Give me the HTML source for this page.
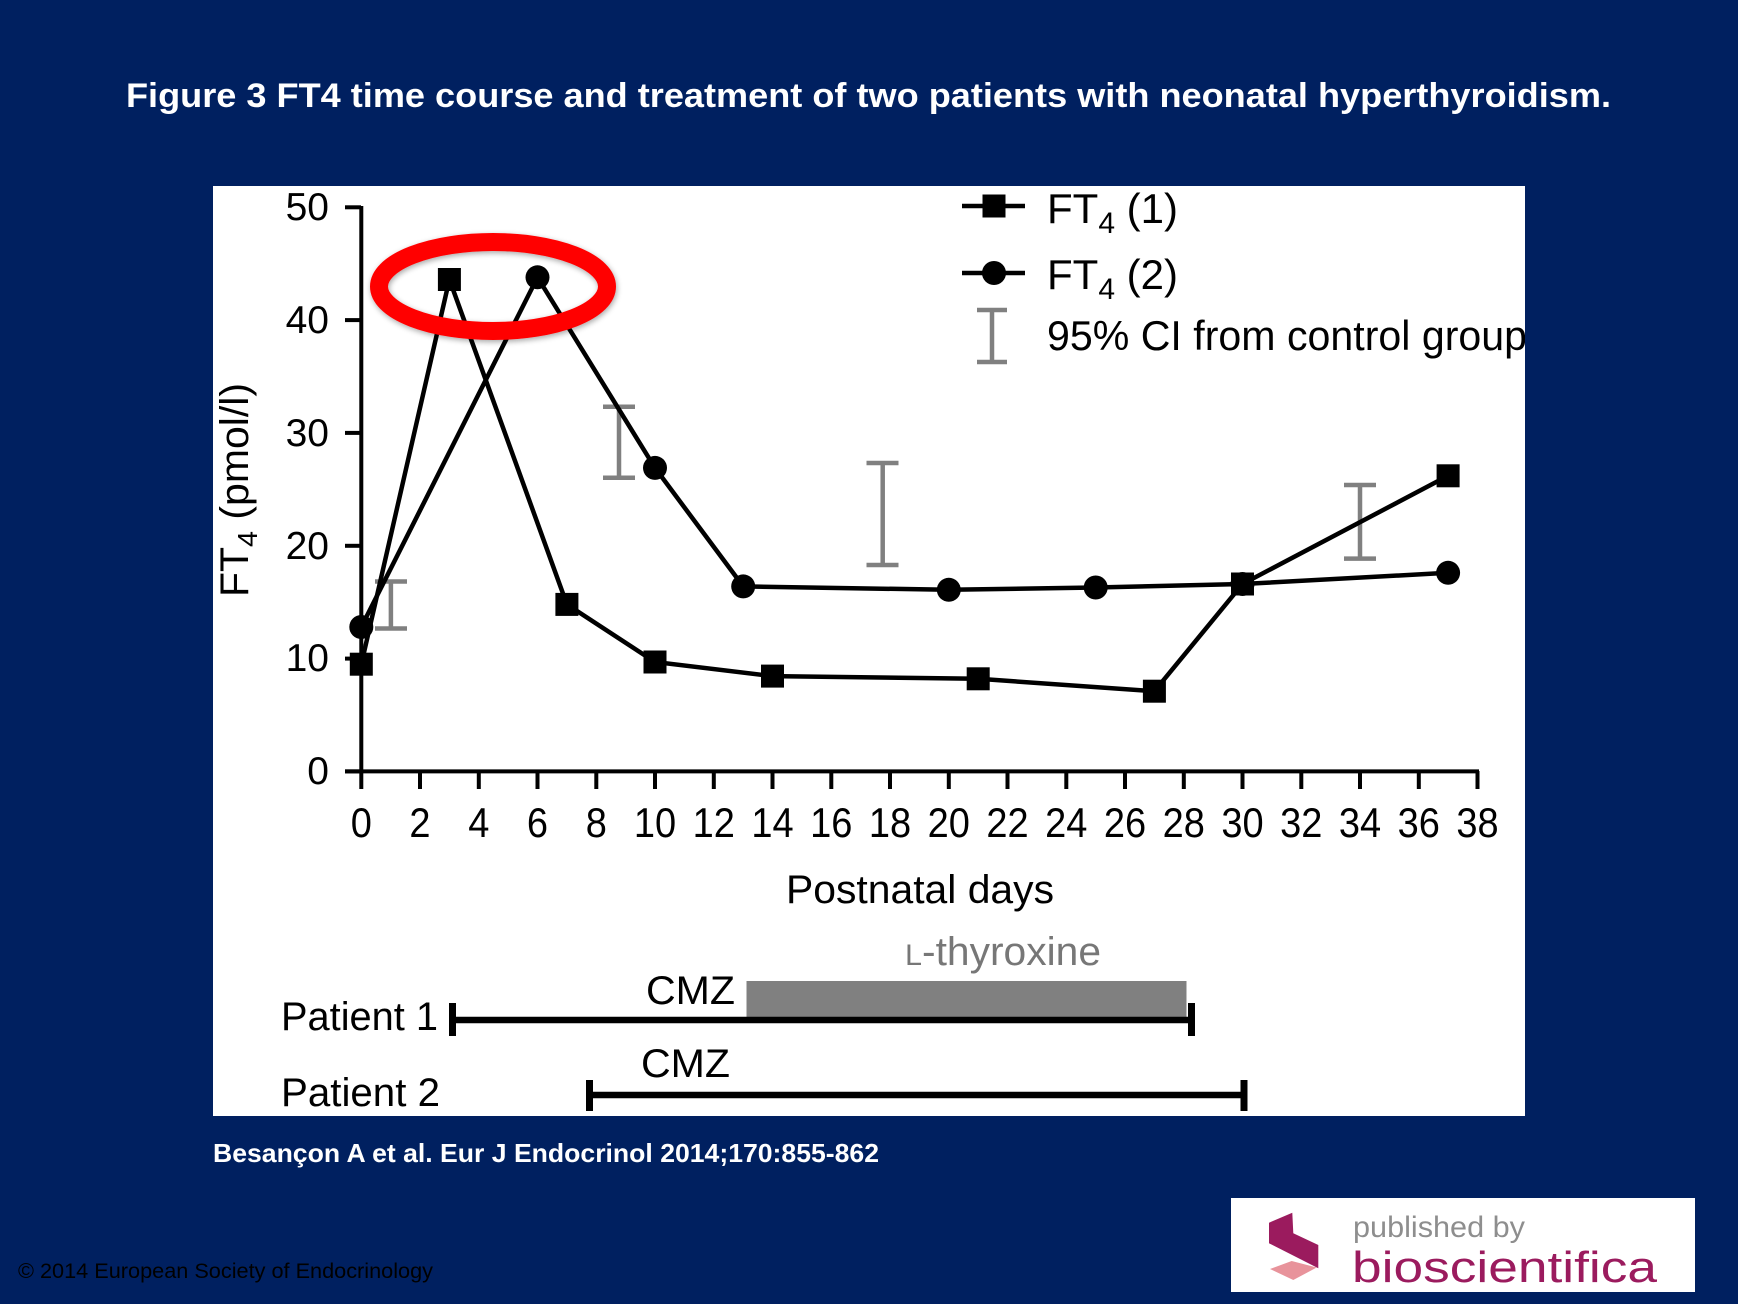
<!DOCTYPE html>
<html>
<head>
<meta charset="utf-8">
<style>
html,body{margin:0;padding:0;background:#002060;}
svg{display:block;}
text{font-family:"Liberation Sans",Arial,sans-serif;}
</style>
</head>
<body>
<svg width="1738" height="1304" viewBox="0 0 1738 1304" xmlns="http://www.w3.org/2000/svg">
  <defs>
    <clipPath id="box"><rect x="213" y="186" width="1312" height="930"/></clipPath>
    <filter id="sh" x="-20%" y="-40%" width="140%" height="180%">
      <feGaussianBlur in="SourceAlpha" stdDeviation="3"/>
      <feOffset dx="1" dy="2" result="b"/>
      <feComponentTransfer><feFuncA type="linear" slope="0.35"/></feComponentTransfer>
      <feMerge><feMergeNode/><feMergeNode in="SourceGraphic"/></feMerge>
    </filter>
  </defs>
  <rect x="0" y="0" width="1738" height="1304" fill="#002060"/>

  <!-- Title -->
  <text x="126" y="107" fill="#ffffff" font-size="34" font-weight="bold" textLength="1485" lengthAdjust="spacingAndGlyphs">Figure 3 FT4 time course and treatment of two patients with neonatal hyperthyroidism.</text>

  <!-- White figure box -->
  <rect x="213" y="186" width="1312" height="930" fill="#ffffff"/>

  <g clip-path="url(#box)">
    <!-- Axes -->
    <g stroke="#000" stroke-width="4" fill="none">
      <line x1="361.3" y1="206" x2="361.3" y2="773"/>
      <line x1="345" y1="771.4" x2="1479" y2="771.4"/>
      <!-- y ticks -->
      <line x1="345" y1="207.3" x2="361" y2="207.3"/>
      <line x1="345" y1="320.1" x2="361" y2="320.1"/>
      <line x1="345" y1="432.9" x2="361" y2="432.9"/>
      <line x1="345" y1="545.8" x2="361" y2="545.8"/>
      <line x1="345" y1="658.6" x2="361" y2="658.6"/>
      <line x1="345" y1="771.4" x2="361" y2="771.4"/>
      <!-- x ticks -->
      <line x1="361.3" y1="771" x2="361.3" y2="789"/>
      <line x1="420.0" y1="771" x2="420.0" y2="789"/>
      <line x1="478.8" y1="771" x2="478.8" y2="789"/>
      <line x1="537.5" y1="771" x2="537.5" y2="789"/>
      <line x1="596.3" y1="771" x2="596.3" y2="789"/>
      <line x1="655.0" y1="771" x2="655.0" y2="789"/>
      <line x1="713.8" y1="771" x2="713.8" y2="789"/>
      <line x1="772.5" y1="771" x2="772.5" y2="789"/>
      <line x1="831.3" y1="771" x2="831.3" y2="789"/>
      <line x1="890.0" y1="771" x2="890.0" y2="789"/>
      <line x1="948.8" y1="771" x2="948.8" y2="789"/>
      <line x1="1007.5" y1="771" x2="1007.5" y2="789"/>
      <line x1="1066.3" y1="771" x2="1066.3" y2="789"/>
      <line x1="1125.0" y1="771" x2="1125.0" y2="789"/>
      <line x1="1183.8" y1="771" x2="1183.8" y2="789"/>
      <line x1="1242.5" y1="771" x2="1242.5" y2="789"/>
      <line x1="1301.3" y1="771" x2="1301.3" y2="789"/>
      <line x1="1360.0" y1="771" x2="1360.0" y2="789"/>
      <line x1="1418.8" y1="771" x2="1418.8" y2="789"/>
      <line x1="1477.5" y1="771" x2="1477.5" y2="789"/>
    </g>

    <!-- y tick labels -->
    <g font-size="39" fill="#000" text-anchor="end">
      <text x="329" y="220">50</text>
      <text x="329" y="333">40</text>
      <text x="329" y="446">30</text>
      <text x="329" y="559">20</text>
      <text x="329" y="671">10</text>
      <text x="329" y="784">0</text>
    </g>

    <!-- x tick labels -->
    <g font-size="38" fill="#000" text-anchor="middle">
      <g transform="translate(0,837) scale(1,1.1)">
        <text x="361.3" y="0">0</text>
        <text x="420.0" y="0">2</text>
        <text x="478.8" y="0">4</text>
        <text x="537.5" y="0">6</text>
        <text x="596.3" y="0">8</text>
        <text x="655.0" y="0">10</text>
        <text x="713.8" y="0">12</text>
        <text x="772.5" y="0">14</text>
        <text x="831.3" y="0">16</text>
        <text x="890.0" y="0">18</text>
        <text x="948.8" y="0">20</text>
        <text x="1007.5" y="0">22</text>
        <text x="1066.3" y="0">24</text>
        <text x="1125.0" y="0">26</text>
        <text x="1183.8" y="0">28</text>
        <text x="1242.5" y="0">30</text>
        <text x="1301.3" y="0">32</text>
        <text x="1360.0" y="0">34</text>
        <text x="1418.8" y="0">36</text>
        <text x="1477.5" y="0">38</text>
      </g>
    </g>

    <!-- axis titles -->
    <text x="786" y="903" font-size="40" fill="#000" textLength="268" lengthAdjust="spacingAndGlyphs">Postnatal days</text>
    <text transform="translate(248,597) rotate(-90)" font-size="40" fill="#000" textLength="214" lengthAdjust="spacingAndGlyphs">FT<tspan font-size="28" dy="9">4</tspan><tspan dy="-9"> (pmol/l)</tspan></text>

    <!-- CI bars -->
    <g stroke="#808080" stroke-width="4.5" fill="none">
      <line x1="390.9" y1="581.5" x2="390.9" y2="628.5"/>
      <line x1="375" y1="581.5" x2="407" y2="581.5"/>
      <line x1="375" y1="628.5" x2="407" y2="628.5"/>

      <line x1="619" y1="406.7" x2="619" y2="477.7"/>
      <line x1="603" y1="406.7" x2="635" y2="406.7"/>
      <line x1="603" y1="477.7" x2="635" y2="477.7"/>

      <line x1="882.7" y1="463" x2="882.7" y2="565"/>
      <line x1="866.5" y1="463" x2="898.5" y2="463"/>
      <line x1="866.5" y1="565" x2="898.5" y2="565"/>

      <line x1="1360" y1="485" x2="1360" y2="558.6"/>
      <line x1="1344" y1="485" x2="1376" y2="485"/>
      <line x1="1344" y1="558.6" x2="1376" y2="558.6"/>
    </g>

    <!-- Series lines -->
    <polyline fill="none" stroke="#000" stroke-width="4.5" stroke-linejoin="miter"
      points="361.3,664.2 449.4,279.5 566.9,604.4 655.0,662.0 772.5,676.1 978.2,678.8 1154.4,691.2 1242.5,584.0 1448.1,475.8"/>
    <polyline fill="none" stroke="#000" stroke-width="4.5" stroke-linejoin="miter"
      points="361.3,627.0 537.5,277.3 655.0,467.9 743.2,586.4 948.8,589.8 1095.7,587.5 1242.5,584.0 1448.1,572.8"/>

    <!-- circles -->
    <g fill="#000">
      <circle cx="361.3" cy="627.0" r="12"/>
      <circle cx="537.5" cy="277.3" r="12"/>
      <circle cx="655.0" cy="467.9" r="12"/>
      <circle cx="743.2" cy="586.4" r="12"/>
      <circle cx="948.8" cy="589.8" r="12"/>
      <circle cx="1095.7" cy="587.5" r="12"/>
      <circle cx="1242.5" cy="584.0" r="12"/>
      <circle cx="1448.1" cy="572.8" r="12"/>
    </g>
    <!-- squares -->
    <g fill="#000">
      <rect x="349.8" y="652.7" width="23" height="23"/>
      <rect x="437.9" y="268.0" width="23" height="23"/>
      <rect x="555.4" y="592.9" width="23" height="23"/>
      <rect x="643.5" y="650.5" width="23" height="23"/>
      <rect x="761.0" y="664.6" width="23" height="23"/>
      <rect x="966.7" y="667.3" width="23" height="23"/>
      <rect x="1142.9" y="679.7" width="23" height="23"/>
      <rect x="1231.0" y="572.5" width="23" height="23"/>
      <rect x="1436.6" y="464.3" width="23" height="23"/>
    </g>

    <!-- Legend -->
    <line x1="962" y1="206" x2="1025" y2="206" stroke="#000" stroke-width="4.5"/>
    <rect x="982.5" y="194.5" width="23" height="23" fill="#000"/>
    <text x="1047" y="223" font-size="42" fill="#000">FT<tspan font-size="30" dy="10">4</tspan><tspan dy="-10"> (1)</tspan></text>

    <line x1="962" y1="273" x2="1025" y2="273" stroke="#000" stroke-width="4.5"/>
    <circle cx="994" cy="273" r="12" fill="#000"/>
    <text x="1047" y="289" font-size="42" fill="#000">FT<tspan font-size="30" dy="10">4</tspan><tspan dy="-10"> (2)</tspan></text>

    <g stroke="#808080" stroke-width="4.5">
      <line x1="992" y1="310" x2="992" y2="362"/>
      <line x1="977" y1="310" x2="1007" y2="310"/>
      <line x1="977" y1="362" x2="1007" y2="362"/>
    </g>
    <text x="1047" y="350" font-size="42" fill="#000" textLength="480" lengthAdjust="spacingAndGlyphs">95% CI from control group</text>

    <!-- Treatment timeline -->
    <text x="905" y="965" font-size="40" fill="#777777" textLength="196" lengthAdjust="spacingAndGlyphs"><tspan font-size="30">L</tspan>-thyroxine</text>
    <rect x="746.5" y="981" width="440" height="36" fill="#808080"/>
    <text x="646" y="1004" font-size="40" fill="#000" textLength="89" lengthAdjust="spacingAndGlyphs">CMZ</text>
    <text x="281" y="1030" font-size="40" fill="#000" textLength="157" lengthAdjust="spacingAndGlyphs">Patient 1</text>
    <g stroke="#000" fill="none">
      <line x1="452" y1="1020" x2="1192" y2="1020" stroke-width="6.5"/>
      <line x1="452.5" y1="1003" x2="452.5" y2="1036" stroke-width="7"/>
      <line x1="1191.5" y1="1003" x2="1191.5" y2="1036" stroke-width="7"/>
    </g>

    <text x="641" y="1077" font-size="40" fill="#000" textLength="89" lengthAdjust="spacingAndGlyphs">CMZ</text>
    <text x="281" y="1106" font-size="40" fill="#000" textLength="159" lengthAdjust="spacingAndGlyphs">Patient 2</text>
    <g stroke="#000" fill="none">
      <line x1="589" y1="1095" x2="1244" y2="1095" stroke-width="6.5"/>
      <line x1="589.5" y1="1080" x2="589.5" y2="1111" stroke-width="7"/>
      <line x1="1244" y1="1080" x2="1244" y2="1111" stroke-width="7"/>
    </g>

    <!-- Red ellipse highlight -->
    <ellipse cx="493" cy="286.5" rx="114" ry="44.5" fill="none" stroke="#ff0000" stroke-width="18" filter="url(#sh)"/>
  </g>

  <!-- Citation -->
  <text x="213" y="1162" font-size="26" font-weight="bold" fill="#ffffff" textLength="666" lengthAdjust="spacingAndGlyphs">Besançon A et al. Eur J Endocrinol 2014;170:855-862</text>

  <!-- Copyright -->
  <text x="18" y="1278" font-size="21" fill="#000000" textLength="415" lengthAdjust="spacingAndGlyphs">© 2014 European Society of Endocrinology</text>

  <!-- Logo -->
  <rect x="1231" y="1198" width="464" height="94" fill="#ffffff"/>
  <polygon points="1269,1222.7 1292.3,1212.7 1293.3,1233.3 1318.3,1245 1318.3,1268.3 1269,1243.3" fill="#9b1b5e"/>
  <polygon points="1270,1269 1291.7,1261 1316.7,1267.5 1293.3,1280" fill="#e8939b"/>
  <text x="1353" y="1237" font-size="30" fill="#8e8e8e" textLength="172" lengthAdjust="spacingAndGlyphs">published by</text>
  <text x="1352" y="1282" font-size="44" fill="#9b1b5e" textLength="305" lengthAdjust="spacingAndGlyphs">bioscientifica</text>
</svg>
</body>
</html>
